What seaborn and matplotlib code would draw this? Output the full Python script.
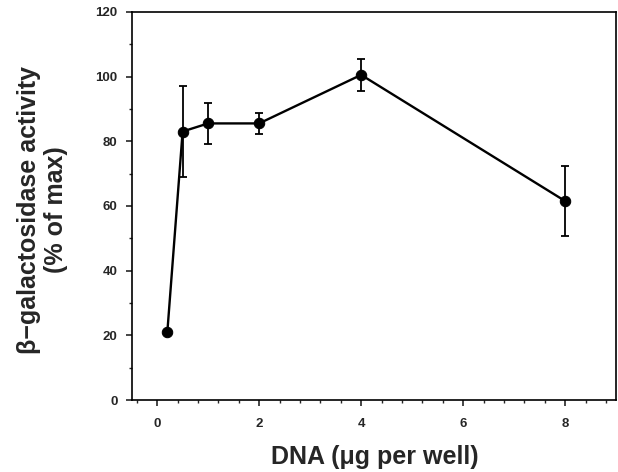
import matplotlib
matplotlib.use("Agg")
import matplotlib.pyplot as plt
from matplotlib.ticker import MultipleLocator
import seaborn as sns
import pandas as pd

dna = [0.2, 0.5, 1, 2, 4, 8]
activity = [21, 83, 85.5, 85.5, 100.5, 61.5]
err = [0, 14, 6.4, 3.2, 5, 10.7]
xticks = [0, 2, 4, 6, 8]
yticks = [0, 20, 40, 60, 80, 100, 120]

sns.set_style("ticks")
plt.rcParams['font.family'] = ['Liberation Sans', 'DejaVu Sans']

df = pd.DataFrame({"dna": dna, "activity": activity, "err": err})

fig = plt.figure(figsize=(6.18, 4.72), dpi=100)
ax = fig.add_axes([0.213, 0.1525, 0.784, 0.8225])

ax.errorbar(df["dna"], df["activity"], yerr=df["err"], fmt="none",
            ecolor="black", elinewidth=1.3, capsize=3, capthick=1.3, zorder=2)
sns.lineplot(data=df, x="dna", y="activity", ax=ax, color="black",
             linewidth=1.7, marker="o", markersize=7.5, markeredgecolor="black",
             markerfacecolor="black", zorder=3)

ax.set_xlim(-0.5, 9)
ax.set_ylim(0, 120)
ax.set_xticks(xticks)
ax.set_xticklabels([str(t) for t in xticks])
ax.set_yticks(yticks)
ax.set_yticklabels([str(t) for t in yticks])
ax.xaxis.set_minor_locator(MultipleLocator(0.4))
ax.yaxis.set_minor_locator(MultipleLocator(10))
ax.tick_params(which="major", direction="out", length=4, width=1.2, labelsize=9.5)
ax.tick_params(axis="x", which="major", pad=9)
ax.tick_params(axis="y", which="major", pad=6)
ax.tick_params(which="minor", direction="out", length=2.5, width=1.0)
for lab in ax.get_xticklabels() + ax.get_yticklabels():
    lab.set_fontweight("bold")

for s in ax.spines.values():
    s.set_visible(True)
    s.set_linewidth(1.2)
    s.set_color("black")

ax.set_xlabel("DNA (\u03bcg per well)", fontsize=18, fontweight="bold")
ax.set_ylabel("\u03b2\u2212galactosidase activity\n(% of max)", fontsize=18,
              fontweight="bold", linespacing=1.15)
ax.xaxis.set_label_coords(0.502, -0.116)
ax.yaxis.set_label_coords(-0.1315, 0.49)

fig.savefig("out.png", dpi=100)
